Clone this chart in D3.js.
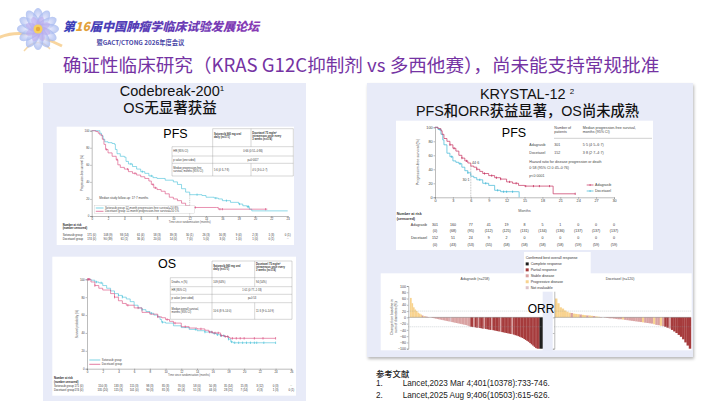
<!DOCTYPE html>
<html>
<head>
<meta charset="utf-8">
<script src="https://cdn.jsdelivr.net/npm/d3@7"></script>
<style>
  body { margin: 0; background: #fff; }
  svg { display: block; }
</style>
</head>
<body>
<div id="wrapper"></div>
<script>
// ---------- data ----------

// CodeBreaK 200 PFS, [month, % free of progression]
const cbPfsSoto = [[0,100],[0.8,100],[1.0,97],[1.2,94],[1.4,90],[1.6,87],[2.0,86],[2.5,85],[2.8,84],[2.9,78],[3.1,73],[3.5,70],[4.0,69],[4.2,64],[4.5,61],[5.0,58],[5.5,55],[6.0,52],[6.5,50],[7.0,47],[7.5,45],[8.0,44],[9.0,42],[10.0,40],[10.5,37],[11.0,32],[11.5,28],[12.0,25],[13.5,24],[14.0,22],[15.0,21],[15.5,20],[16.0,18],[17.0,16],[18.0,14],[18.5,12],[19.0,11],[19.3,8],[19.6,6],[24,6]]
const cbPfsDoce = [[0,100],[0.5,99],[0.8,97],[1.0,95],[1.3,90],[1.5,84],[1.7,78],[2.0,74],[2.5,70],[3.0,66],[3.2,60],[3.5,57],[4.0,55],[4.5,52],[5.0,50],[5.5,48],[6.0,46],[6.5,44],[7.0,41],[7.3,37],[7.6,33],[8.0,31],[8.5,29],[9.0,26],[9.5,22],[10.0,20],[10.5,18],[11.0,15],[11.5,12],[12.0,10],[15.3,10],[15.5,8],[21.5,8]]
const cbPfsSotoCens = [4.8, 6.2, 7.3, 12.9, 15.2, 16.5, 18.1, 19.1, 19.2]
const cbPfsDoceCens = [1.8, 3.1, 4.4, 5.3, 7.5, 7.8, 12.7, 15.7, 16.0, 21.3]
const cbPfsTicks = [0,2,4,6,8,10,12,14,16,18,20,22,24]
const cbPfsRiskSoto = ["171 (0)","108 (9)","93 (14)","61 (4)","58 (3)","39 (3)","30 (1)","26 (3)","16 (8)","9 (4)","2 (3)","1 (3)","0 (1)"]
const cbPfsRiskDoce = ["174 (0)","90 (39)","61 (1)","36 (4)","20 (0)","14 (0)","7 (0)","5 (0)","3 (0)","1 (0)","1 (0)","0 (1)","··"]
const cbPfsHead = [["Sotorasib 960 mg oral", "daily (n=171)"], ["Docetaxel 75 mg/m²", "intravenous once every", "3 weeks (n=174)"]]
const cbPfsRows = [
  [["HR (95% CI)"], ["0·66 (0·51–0·86)"]],
  [["p value (one sided)"], ["p=0·0017"]],
  [["Median progression-free", "survival, months (95% CI)"], ["5·6 (4·3–7·8)"], ["4·5 (3·0–5·7)"]]
]
const cbPfsLegend = ["Sotorasib group 12-month progression-free survival=24·8%", "Docetaxel group 12-month progression-free survival=10·1%"]

// CodeBreaK 200 OS
const cbOsSoto = [[0,100],[0.5,99],[1,97],[1.5,96],[2,93],[2.5,90],[3,87],[3.5,84],[4,82],[4.5,80],[5,78],[5.5,75],[6,71],[6.5,68],[7,66],[7.5,64],[8,62],[8.5,60],[9,58],[9.3,55],[9.5,52],[10,51],[11,48],[12,46],[13,44],[14,42.5],[15,41],[16,39.5],[16.5,38],[17,37],[17.5,36],[18,33],[18.3,30],[18.6,29],[24,29]]
const cbOsDoce = [[0,100],[0.5,97],[1,93],[1.5,90],[2,88],[3,84],[3.5,80],[4,76],[4.5,73],[5,71],[6,68],[7,63],[8,61],[9,58],[9.5,57],[10,55],[10.5,53],[11,51],[12,47],[13,45.5],[14,44.5],[15,43],[15.5,41],[16,40],[17,37],[17.5,36],[18,35],[18.2,34],[24,34]]
const cbOsSotoCens = [1.2, 1.8, 4.0, 4.5, 7.0, 8.2, 9.6, 13.8, 15.0, 15.8, 16.2, 16.6, 17.0, 17.4, 18.0, 18.4, 18.8, 19.3, 19.8, 20.3, 20.8, 21.3, 21.6, 22.5, 24.0]
const cbOsDoceCens = [0.1, 0.2, 0.3, 1.0, 3.5, 5.2, 6.5, 9.0, 10.2, 11.2, 12.5, 14.5, 15.6, 15.9, 16.3, 16.7, 17.1, 17.6, 17.9, 18.5, 19.0, 19.5, 20.0, 21.3, 22.4, 24.0]
const cbOsTicks = [0,2,4,6,8,10,12,14,16,18,20,22,24,26]
const cbOsRiskSoto = ["171 (0)","150 (3)","133 (3)","115 (3)","98 (3)","85 (3)","70 (0)","58 (0)","50 (8)","35 (14)","15 (8)","3 (12)","0 (3)","··"]
const cbOsRiskDoce = ["174 (0)","135 (20)","115 (3)","101 (0)","90 (3)","81 (3)","65 (4)","51 (3)","44 (0)","28 (11)","7 (14)","4 (3)","1 (3)","0 (1)"]
const cbOsHead = [["Sotorasib 960 mg oral", "daily (n=171)"], ["Docetaxel 75 mg/m²", "intravenous once every", "3 weeks (n=174)"]]
const cbOsRows = [
  [["Deaths, n (%)"], ["109 (64%)"], ["94 (54%)"]],
  [["HR (95% CI)"], ["1·01 (0·77–1·33)"]],
  [["p value (one sided)"], ["p=0·53"]],
  [["Median overall survival,", "months (95% CI)"], ["10·6 (8·9–14·0)"], ["11·3 (9·0–14·9)"]]
]
const cbOsLegend = ["Sotorasib group", "Docetaxel group"]

// KRYSTAL-12 PFS
const kAdag = [[0,100],[0.5,98],[1,95],[1.2,90],[1.5,84],[2,80],[2.5,75],[3,70],[3.5,66],[4,60],[4.5,56],[5,52],[5.5,49],[6,44.6],[6.5,43],[7,40],[7.5,37],[8,34],[9,31],[10,28],[11,26],[12,22],[13,20],[14,17],[15,16],[19.6,16],[19.8,5],[23.5,5]]
const kDoce = [[0,100],[0.5,97],[1,90],[1.3,82],[1.5,75],[2,63],[2.5,58],[3,52],[3.5,50],[4,48],[4.5,43],[5,38],[5.5,35],[6,30.1],[6.5,28],[7,25],[8,20],[9,17],[10,10],[11,8],[14,8],[14.1,0]]
const kAdagCens = [2.5, 3.2, 4.5, 5.3, 7.0, 8.3, 9.5, 10.3, 11.0, 12.5, 13.6, 15.2, 16.5, 17.5, 19.2, 23.5]
const kDoceCens = [0.8, 2.8, 4.2, 5.5, 7.5, 8.5, 10.5, 11.5, 12.0, 13.0]
const kTicks = [0,3,6,9,12,15,18,21,24,27,30]
const kRiskAdag = [301,160,77,41,19,8,5,1,0,0,0]
const kCensAdag = [0,68,95,112,125,131,134,136,137,137,137]
const kRiskDoce = [152,51,24,9,2,0,0,0,0,0,0]
const kCensDoce = [0,43,53,55,58,58,58,58,59,59,59]
const kSixMonth = [44.6, 30.1]

// KRYSTAL-12 waterfall, % change in sum of diameters, sorted
// codes: P progressive, S stable, R partial, C complete, N not evaluable
const wfAdagVals = [62,45,32,25,20,15,12,9,6,4,3,2,1,0,
  -1,-2,-3,-4,-5,-6,-7,-8,-9,-10,-11,-12,-13,-14,-15,-16,-17,-18,-19,-20,-21,-22,-23,-24,-25,-27,-29,
  -30,-31,-31,-32,-33,-33,-34,-35,-36,-36,-37,-38,-39,-40,-40,-41,-42,-43,-44,-45,-46,-47,-48,-49,-50,-51,-52,-53,-54,-55,-57,-58,-60,-62,-64,-66,-69,-72,-75,-78,-82,-86,-90,-94,-98,-100,-100,-100,-100]
const wfAdagCodes = "PPPPPPPPSPSSSS" + "SSSSSSSSSSSSSNSSSSSSSSSSSSS" + "RRSRRSRRRSRRRRSRRRRRSRRRRRRRSRRRRRRRRRRRRRRRRRRCC"
const wfDoceVals = [60,45,32,28,22,18,15,14,12,11,10,9,8,7,6,6,5,4,3,2,1,0,
  -1,-2,-3,-3,-4,-5,-6,-6,-7,-8,-9,-10,-11,-12,-13,-14,-15,-16,-17,-18,-19,-20,-22,-24,-25,-27,-28,
  -30,-33,-36,-40,-45,-50,-56,-62,-70,-80,-90,-100]
const wfDoceCodes = "PPPPPPPSPPPSPPSPPSPPSS" + "SSSSSSSSPSSSSSSSSPSSSSPSSPS" + "RRSRRRRRRRRR"
const wfLegend = [["C","Complete response"],["R","Partial response"],["S","Stable disease"],["P","Progressive disease"],["N","Not evaluable"]]
const wfTicks = [100,80,60,40,20,0,-20,-40,-60,-80,-100]

const references = ["Lancet,2023 Mar 4;401(10378):733-746.", "Lancet,2025 Aug 9;406(10503):615-626."]

// ---------- styles ----------
const F = "'Liberation Sans', Arial, 'Noto Sans CJK SC', sans-serif"
const FC = "'Noto Sans CJK SC', 'Liberation Sans', sans-serif"
const cyan = "#45c0d8"
const pink = "#d8467a"
const adagRed = "#c5305f"
const kCyan = "#3db6d6"
const wfColors = { C: "#1d1d1d", R: "#a63b3c", S: "#d9a2a2", P: "#f8d38f", N: "#dcc3ca" }
const panelFill = "#e8ebf8"

const svg = d3.select("#wrapper").append("svg")
  .attr("width", 720).attr("height", 405)
  .attr("viewBox", "0 0 720 405")

const defs = svg.append("defs")
defs.append("filter").attr("id", "shadow").attr("x", "-5%").attr("y", "-5%").attr("width", "112%").attr("height", "112%")
  .append("feDropShadow").attr("dx", 1).attr("dy", 2).attr("stdDeviation", 1.6)
  .attr("flood-color", "#000").attr("flood-opacity", 0.28)
const hg = defs.append("linearGradient").attr("id", "hdr")
hg.append("stop").attr("offset", "0%").attr("stop-color", "#3a3fb8")
hg.append("stop").attr("offset", "100%").attr("stop-color", "#8a3ab4")
const pg = defs.append("radialGradient").attr("id", "petal")
pg.append("stop").attr("offset", "0%").attr("stop-color", "#f4f0ff")
pg.append("stop").attr("offset", "100%").attr("stop-color", "#9fb4ee")

// ---------- helpers ----------
function txt(g, x, y, s, fs, opts = {}) {
  return g.append("text").attr("x", x).attr("y", y).text(s)
    .attr("font-size", fs).attr("font-family", opts.family || F)
    .attr("font-weight", opts.weight || "normal")
    .attr("text-anchor", opts.anchor || "start")
    .attr("fill", opts.fill || "#222")
}

function lines(g, x, yMid, arr, fs, opts = {}) {
  const lh = fs * 1.15
  const y0 = yMid - (arr.length - 1) * lh / 2 + fs * 0.35
  arr.forEach((s, i) => txt(g, x, y0 + i * lh, s, fs, opts))
}

function survAt(data, t) {
  let v = data[0][1]
  data.forEach(d => { if (d[0] <= t) v = d[1] })
  return v
}

function styleAxis(a, fs) {
  a.attr("font-size", fs).attr("font-family", F)
  a.selectAll(".domain, .tick line").attr("stroke", "#555").attr("stroke-width", 0.4)
  a.selectAll(".tick text").attr("fill", "#444")
}

function kmPlot(g, o) {
  const x = d3.scaleLinear().domain([0, o.xMax]).range([o.x0, o.x1])
  const y = d3.scaleLinear().domain([0, 100]).range([o.y0, o.y1])
  const ax = g.append("g").attr("transform", `translate(0,${o.y0})`)
    .call(d3.axisBottom(x).tickValues(o.ticks).tickSize(1.5).tickPadding(0.8))
  styleAxis(ax, o.fs)
  const ay = g.append("g").attr("transform", `translate(${o.x0},0)`)
    .call(d3.axisLeft(y).tickValues([0, 20, 40, 60, 80, 100]).tickSize(1.5).tickPadding(0.8))
  styleAxis(ay, o.fs)
  const line = d3.line().x(d => x(d[0])).y(d => y(d[1])).curve(d3.curveStepAfter)
  o.series.forEach(s => {
    g.append("path").datum(s.data).attr("d", line)
      .attr("fill", "none").attr("stroke", s.color).attr("stroke-width", o.lw)
    g.append("g").selectAll("line").data(s.censor).join("line")
      .attr("x1", t => x(t)).attr("x2", t => x(t))
      .attr("y1", t => y(survAt(s.data, t)) - o.tick)
      .attr("y2", t => y(survAt(s.data, t)) + o.tick)
      .attr("stroke", s.color).attr("stroke-width", o.lw * 1.1)
  })
  return { x, y }
}

function drawTable(g, xs, ys, head, rows, fs) {
  const ln = (x1, y1, x2, y2) => g.append("line").attr("x1", x1).attr("y1", y1).attr("x2", x2).attr("y2", y2)
    .attr("stroke", "#8c8c8c").attr("stroke-width", 0.35)
  const yEnd = ys[ys.length - 1]
  g.append("rect").attr("x", xs[1]).attr("y", ys[0]).attr("width", xs[3] - xs[1]).attr("height", ys[1] - ys[0]).attr("fill", "#fff")
  g.append("rect").attr("x", xs[0]).attr("y", ys[1]).attr("width", xs[3] - xs[0]).attr("height", yEnd - ys[1]).attr("fill", "#fff")
  ln(xs[1], ys[0], xs[3], ys[0])
  ys.slice(1).forEach(y => ln(xs[0], y, xs[3], y))
  ln(xs[0], ys[1], xs[0], yEnd); ln(xs[1], ys[0], xs[1], yEnd); ln(xs[3], ys[0], xs[3], yEnd)
  ln(xs[2], ys[0], xs[2], ys[1])
  head.forEach((h, j) => lines(g, xs[j + 1] + 1.3, (ys[0] + ys[1]) / 2 - 2, h, fs, { weight: "bold", fill: "#333" }))
  rows.forEach((r, i) => {
    const mid = (ys[i + 1] + ys[i + 2]) / 2
    lines(g, xs[0] + 1.3, mid, r[0], fs, { fill: "#333" })
    if (r.length === 2) {
      lines(g, (xs[1] + xs[3]) / 2, mid, r[1], fs, { anchor: "middle", fill: "#333" })
    } else {
      ln(xs[2], ys[i + 1], xs[2], ys[i + 2])
      lines(g, xs[1] + 1.3, mid, r[1], fs, { fill: "#333" })
      lines(g, xs[2] + 1.3, mid, r[2], fs, { fill: "#333" })
    }
  })
}

function waterfall(g, vals, codes, o) {
  const x = d3.scaleBand().domain(d3.range(vals.length)).range([o.x0, o.x1])
  const y = d3.scaleLinear().domain([-100, 100]).range([o.yb, o.yt])
  g.append("g").selectAll("rect").data(vals).join("rect")
    .attr("x", (d, i) => x(i)).attr("width", x.bandwidth() + 0.2)
    .attr("y", d => y(Math.max(0, d)))
    .attr("height", d => Math.abs(y(d) - y(0)))
    .attr("fill", (d, i) => wfColors[codes[i]])
  ;[20, -30].forEach(v => g.append("line")
    .attr("x1", o.axisX).attr("x2", o.x1).attr("y1", y(v)).attr("y2", y(v))
    .attr("stroke", "#8a9aa0").attr("stroke-width", 0.4).attr("stroke-dasharray", "1,1"))
  g.append("line").attr("x1", o.axisX).attr("x2", o.x1).attr("y1", y(0)).attr("y2", y(0))
    .attr("stroke", "#666").attr("stroke-width", 0.4)
  const ay = g.append("g").attr("transform", `translate(${o.axisX},0)`)
    .call(d3.axisLeft(y).tickValues(o.labels ? wfTicks : [0, -50, -100]).tickSize(1.4).tickPadding(0.8)
      .tickFormat(o.labels ? d3.format("d") : ""))
  styleAxis(ay, 3.6)
  return { x, y }
}

// ---------- header ----------
const logo = svg.append("g").attr("transform", "translate(38,29)")
logo.append("path").attr("d", "M-40,9 C-22,1 -2,4 24,17")
  .attr("stroke", "#f2b24e").attr("stroke-width", 3).attr("fill", "none").attr("opacity", 0.55)
logo.append("path").attr("d", "M-14,22 C-6,12 4,10 12,20")
  .attr("stroke", "#f0c070").attr("stroke-width", 1.5).attr("fill", "none").attr("opacity", 0.6)
d3.range(12).forEach(i => logo.append("ellipse")
  .attr("rx", 5.5).attr("ry", 12)
  .attr("transform", `rotate(${i * 30}) translate(0,-9)`)
  .attr("fill", "url(#petal)").attr("opacity", 0.75))
d3.range(8).forEach(i => logo.append("ellipse")
  .attr("rx", 3.5).attr("ry", 7)
  .attr("transform", `rotate(${i * 45 + 20}) translate(0,-6)`)
  .attr("fill", "#b9a8ec").attr("opacity", 0.55))
logo.append("circle").attr("r", 4.5).attr("fill", "#f6d060")
logo.append("circle").attr("r", 2.2).attr("fill", "#e8a93a")

const h1 = svg.append("text").attr("x", 63).attr("y", 31)
  .attr("font-size", 12.1).attr("font-weight", 900).attr("font-family", FC)
  .attr("fill", "url(#hdr)").attr("font-style", "italic")
h1.append("tspan").text("第")
h1.append("tspan").attr("fill", "#e2a13c").text("16")
h1.append("tspan").text("届中国肿瘤学临床试验发展论坛")
txt(svg, 96.5, 44.5, "暨GACT/CTONG 2026年度会议", 6.3, { family: FC, weight: "bold", fill: "#4a47a6" })

txt(svg, 361, 72, "确证性临床研究（KRAS G12C抑制剂 vs 多西他赛），尚未能支持常规批准", 18.6,
  { family: FC, anchor: "middle", fill: "#7533a3" })

// ---------- left panel: CodeBreaK 200 ----------
svg.append("rect").attr("x", 43).attr("y", 83).attr("width", 263).attr("height", 318).attr("fill", panelFill)
txt(svg, 172, 95.7, "Codebreak-200", 14.5, { anchor: "middle", weight: 500, fill: "#111" })
  .append("tspan").attr("font-size", 8).attr("dy", -5).text("1")
txt(svg, 170, 112.7, "OS无显著获益", 14.5, { anchor: "middle", weight: 500, fill: "#111" })

// PFS figure
const pfsG = svg.append("g")
pfsG.append("rect").attr("x", 56.7).attr("y", 126.7).attr("width", 237.3).attr("height", 118.3).attr("fill", "#fff")
const pfs = kmPlot(pfsG, {
  xMax: 24, ticks: cbPfsTicks, x0: 91.7, x1: 287.7, y0: 216, y1: 130.7, fs: 2.9, lw: 0.6, tick: 1.1,
  series: [
    { data: cbPfsSoto, censor: cbPfsSotoCens, color: cyan },
    { data: cbPfsDoce, censor: cbPfsDoceCens, color: pink }
  ]
})
pfsG.append("line").attr("x1", pfs.x(12)).attr("x2", pfs.x(12)).attr("y1", pfs.y(25)).attr("y2", pfs.y(0))
  .attr("stroke", "#777").attr("stroke-width", 0.4).attr("stroke-dasharray", "1,0.8")
txt(pfsG, 82.5, 173, "Progression-free survival (%)", 2.8, { anchor: "middle", fill: "#555" })
  .attr("transform", "rotate(-90,82.5,173)")
txt(pfsG, 189.7, 223.3, "Time since randomisation (months)", 2.7, { anchor: "middle", fill: "#555" })
txt(pfsG, 99.3, 198.5, "Median study follow-up: 17·7 months", 3, { fill: "#444" })
pfsG.append("rect").attr("x", 94.3).attr("y", 205.8).attr("width", 100).attr("height", 7.4)
  .attr("fill", "#fff").attr("stroke", "#bbb").attr("stroke-width", 0.3)
cbPfsLegend.forEach((s, i) => {
  const yy = 208 + i * 3.3
  pfsG.append("line").attr("x1", 95.8).attr("x2", 103.5).attr("y1", yy).attr("y2", yy)
    .attr("stroke", i ? pink : cyan).attr("stroke-width", 0.7)
  txt(pfsG, 105, yy + 1, s, 2.8, { fill: "#444" })
})
txt(svg, 175.5, 137.7, "PFS", 12.5, { anchor: "middle", fill: "#000" })
drawTable(pfsG, [172, 212.7, 251, 293.3], [128.7, 146.7, 156, 163.3, 176], cbPfsHead, cbPfsRows, 2.6)
txt(pfsG, 62.7, 226.3, "Number at risk", 2.7, { weight: "bold" })
txt(pfsG, 62.7, 229.3, "(number censored)", 2.7, { weight: "bold" })
;[["Sotorasib group", cbPfsRiskSoto, 236.2], ["Docetaxel group", cbPfsRiskDoce, 240.2]].forEach(([lab, arr, yy]) => {
  txt(pfsG, 62.7, yy, lab, 2.8, { fill: "#333" })
  arr.forEach((s, i) => txt(pfsG, pfs.x(cbPfsTicks[i]), yy, s, 2.8, { anchor: "middle", fill: "#333" }))
})

// OS figure
const osG = svg.append("g")
osG.append("rect").attr("x", 52.3).attr("y", 256.7).attr("width", 243.7).attr("height", 139).attr("fill", "#fff")
const os = kmPlot(osG, {
  xMax: 26, ticks: cbOsTicks, x0: 87, x1: 291.3, y0: 368.7, y1: 279.3, fs: 2.9, lw: 0.6, tick: 1.2,
  series: [
    { data: cbOsSoto, censor: cbOsSotoCens, color: cyan },
    { data: cbOsDoce, censor: cbOsDoceCens, color: pink }
  ]
})
txt(osG, 78, 324, "Survival probability (%)", 2.8, { anchor: "middle", fill: "#555" })
  .attr("transform", "rotate(-90,78,324)")
txt(osG, 189, 376.2, "Time since randomisation (months)", 2.7, { anchor: "middle", fill: "#555" })
cbOsLegend.forEach((s, i) => {
  const yy = 360 + i * 4.3
  osG.append("line").attr("x1", 89.3).attr("x2", 100.3).attr("y1", yy).attr("y2", yy)
    .attr("stroke", i ? pink : cyan).attr("stroke-width", 0.7)
  txt(osG, 101.8, yy + 1, s, 2.8, { fill: "#444" })
})
txt(svg, 167, 267.6, "OS", 12.5, { anchor: "middle", fill: "#000" })
drawTable(osG, [170.3, 212, 254.7, 292], [261, 277.7, 286.7, 294.3, 302.7, 319.3], cbOsHead, cbOsRows, 2.6)
txt(osG, 54, 379.2, "Number at risk", 2.7, { weight: "bold" })
txt(osG, 54, 382.5, "(number censored)", 2.7, { weight: "bold" })
;[["Sotorasib group", cbOsRiskSoto, 386.6], ["Docetaxel group", cbOsRiskDoce, 390.6]].forEach(([lab, arr, yy]) => {
  txt(osG, 54, yy, lab, 2.8, { fill: "#333" })
  arr.forEach((s, i) => { if (i) txt(osG, os.x(cbOsTicks[i]), yy, s, 2.8, { anchor: "middle", fill: "#333" }) })
  txt(osG, 74.5, yy, arr[0], 2.8, { fill: "#333" })
})

// ---------- right panel: KRYSTAL-12 ----------
svg.append("rect").attr("x", 367).attr("y", 83).attr("width", 326).attr("height", 274)
  .attr("fill", panelFill).attr("filter", "url(#shadow)")
txt(svg, 527, 99.3, "KRYSTAL-12 ", 14.5, { anchor: "middle", weight: 500, fill: "#111" })
  .append("tspan").attr("font-size", 8).attr("dy", -5).text("2")
txt(svg, 527.5, 116, "PFS和ORR获益显著，OS尚未成熟", 14.3, { anchor: "middle", weight: 500, fill: "#111" })

const kG = svg.append("g")
kG.append("rect").attr("x", 396).attr("y", 120.7).attr("width", 257).attr("height", 129.3).attr("fill", "#fff")
const km = kmPlot(kG, {
  xMax: 30, ticks: kTicks, x0: 435, x1: 614, y0: 197.3, y1: 127.3, fs: 3.8, lw: 0.7, tick: 1.1,
  series: [
    { data: kDoce, censor: kDoceCens, color: kCyan },
    { data: kAdag, censor: kAdagCens, color: adagRed }
  ]
})
kG.append("line").attr("x1", km.x(6)).attr("x2", km.x(6)).attr("y1", km.y(kSixMonth[0])).attr("y2", km.y(0))
  .attr("stroke", "#666").attr("stroke-width", 0.45).attr("stroke-dasharray", "0.8,0.8")
txt(kG, km.x(6) + 1.2, km.y(kSixMonth[0]) - 1.6, "44·6", 3.6, { fill: "#444" })
txt(kG, km.x(6) - 1.2, km.y(kSixMonth[1]) + 4.5, "30·1", 3.6, { anchor: "end", fill: "#444" })
txt(kG, 419, 162, "Progression-free survival (%)", 3.6, { anchor: "middle", fill: "#555" })
  .attr("transform", "rotate(-90,419,162)")
txt(kG, km.x(15), 211.5, "Months", 3.8, { anchor: "middle", fill: "#555" })
txt(svg, 514, 136.7, "PFS", 12.5, { anchor: "middle", fill: "#000" })
// summary block
txt(kG, 554.3, 128.5, "Number of", 3.6, { fill: "#444" })
txt(kG, 554.3, 132.7, "patients", 3.6, { fill: "#444" })
txt(kG, 582.7, 128.5, "Median progression-free survival,", 3.6, { fill: "#444" })
txt(kG, 582.7, 132.7, "months (95% CI)", 3.6, { fill: "#444" })
kG.append("line").attr("x1", 554).attr("x2", 652).attr("y1", 138.3).attr("y2", 138.3).attr("stroke", "#777").attr("stroke-width", 0.35)
;[["Adagrasib", "301", "5·5 (4·5–6·7)", 146], ["Docetaxel", "152", "3·8 (2·7–4·7)", 153.6]].forEach(([a, b, c, yy]) => {
  txt(kG, 529.3, yy, a, 3.6, { fill: "#444" })
  txt(kG, 554.3, yy, b, 3.6, { fill: "#444" })
  txt(kG, 582.7, yy, c, 3.6, { fill: "#444" })
})
txt(kG, 529.3, 162.5, "Hazard ratio for disease progression or death", 3.6, { fill: "#444" })
txt(kG, 529.3, 169.2, "0·58 (95% CI 0·45–0·76)", 3.6, { fill: "#444" })
txt(kG, 529.3, 177, "p<0·0001", 3.6, { fill: "#444" })
;[["Adagrasib", adagRed, 185], ["Docetaxel", kCyan, 191]].forEach(([s, c, yy]) => {
  kG.append("line").attr("x1", 586.7).attr("x2", 593.5).attr("y1", yy).attr("y2", yy).attr("stroke", c).attr("stroke-width", 0.7)
  kG.append("line").attr("x1", 590.1).attr("x2", 590.1).attr("y1", yy - 1).attr("y2", yy + 1).attr("stroke", c).attr("stroke-width", 0.7)
  txt(kG, 595, yy + 1.2, s, 3.6, { fill: "#444" })
})
txt(kG, 396.7, 214.6, "Number at risk", 3.6, { weight: "bold", fill: "#333" })
txt(kG, 396.7, 220.3, "(censored)", 3.6, { weight: "bold", fill: "#333" })
;[["Adagrasib", kRiskAdag, kCensAdag, 226], ["Docetaxel", kRiskDoce, kCensDoce, 239.3]].forEach(([lab, n, c, yy]) => {
  txt(kG, 427, yy, lab, 3.6, { anchor: "end", fill: "#333" })
  n.forEach((v, i) => txt(kG, km.x(kTicks[i]), yy, v, 3.6, { anchor: "middle", fill: "#333" }))
  c.forEach((v, i) => txt(kG, km.x(kTicks[i]), yy + 6.3, `(${v})`, 3.6, { anchor: "middle", fill: "#333" }))
})

// waterfall plots
const wG = svg.append("g")
wG.append("rect").attr("x", 380.7).attr("y", 273.3).attr("width", 162).attr("height", 77).attr("fill", "#fff")
wG.append("rect").attr("x", 552.7).attr("y", 273.3).attr("width", 139).attr("height", 77).attr("fill", "#fff")
waterfall(wG, wfAdagVals, wfAdagCodes, { x0: 410, x1: 542.5, axisX: 408.3, yt: 286, yb: 348.7, labels: true })
waterfall(wG, wfDoceVals, wfDoceCodes, { x0: 555, x1: 691, axisX: 554.3, yt: 286, yb: 348.7, labels: false })
txt(wG, 475, 280, "Adagrasib (n=258)", 3.5, { anchor: "middle", fill: "#444" })
txt(wG, 620, 280, "Docetaxel (n=120)", 3.5, { anchor: "middle", fill: "#444" })
txt(wG, 393.3, 317, "Change from baseline in", 3.3, { anchor: "middle", fill: "#444" })
  .attr("transform", "rotate(-90,393.3,317)")
txt(wG, 397.2, 317, "sum of diameters (%)", 3.3, { anchor: "middle", fill: "#444" })
  .attr("transform", "rotate(-90,397.2,317)")
// legend
wG.append("rect").attr("x", 524).attr("y", 252).attr("width", 66.7).attr("height", 39.7).attr("fill", "#fff")
txt(wG, 525.7, 258.5, "Confirmed best overall response", 3.6, { fill: "#333" })
wfLegend.forEach(([k, s], i) => {
  const yy = 265 + i * 5.95
  wG.append("rect").attr("x", 525.7).attr("y", yy - 2.6).attr("width", 3).attr("height", 3).attr("fill", wfColors[k])
  txt(wG, 530.7, yy, s, 3.6, { fill: "#333" })
})
txt(svg, 541, 313, "ORR", 12, { anchor: "middle", weight: 500, fill: "#000" })

// ---------- references ----------
txt(svg, 376, 376.5, "参考文献", 8.3, { family: FC, weight: 500, fill: "#222" })
references.forEach((s, i) => {
  txt(svg, 376, 386 + i * 11.5, `${i + 1}.`, 8.2, { fill: "#222" })
  txt(svg, 402.7, 386 + i * 11.5, s, 8.2, { fill: "#222" })
})
</script>
</body>
</html>
